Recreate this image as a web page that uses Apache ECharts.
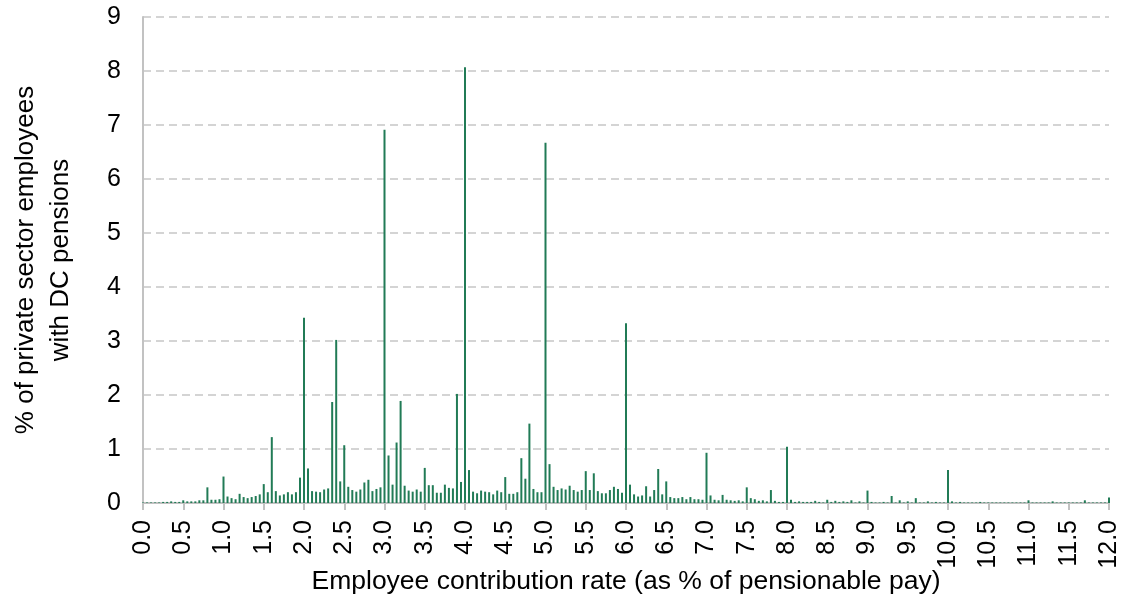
<!DOCTYPE html>
<html>
<head>
<meta charset="utf-8">
<script src="https://cdn.jsdelivr.net/npm/echarts@6/dist/echarts.min.js"></script>
<style>
	html, body { margin: 0; padding: 0; background: #fff; }
	#chart { width: 1126px; height: 602px; }
</style>
</head>
<body>
<div id="chart"></div>
<script>
// contribution rates run 0.00 .. 12.00 in steps of 0.05
var rateStep = 0.05;

// % of private sector employees with DC pensions, one value per rate step
var shares = [
	0.01, 0.01, 0.01, 0.01, 0.01, 0.02, 0.02, 0.03, 0.02, 0.02,   // 0.0 - 0.45
	0.05, 0.03, 0.03, 0.03, 0.05, 0.05, 0.29, 0.06, 0.06, 0.07,   // 0.5 - 0.95
	0.49, 0.12, 0.09, 0.07, 0.17, 0.11, 0.09, 0.11, 0.13, 0.16,   // 1.0
	0.35, 0.20, 1.22, 0.22, 0.14, 0.16, 0.20, 0.16, 0.20, 0.47,   // 1.5
	3.43, 0.64, 0.22, 0.21, 0.20, 0.25, 0.27, 1.87, 3.02, 0.40,   // 2.0
	1.07, 0.30, 0.24, 0.21, 0.25, 0.38, 0.43, 0.22, 0.26, 0.29,   // 2.5
	6.91, 0.88, 0.34, 1.12, 1.89, 0.32, 0.23, 0.21, 0.25, 0.21,   // 3.0
	0.65, 0.33, 0.33, 0.19, 0.19, 0.34, 0.28, 0.27, 2.02, 0.39,   // 3.5
	8.07, 0.61, 0.21, 0.18, 0.23, 0.21, 0.20, 0.16, 0.23, 0.20,   // 4.0
	0.48, 0.17, 0.17, 0.20, 0.83, 0.45, 1.47, 0.26, 0.20, 0.20,   // 4.5
	6.67, 0.72, 0.30, 0.24, 0.27, 0.25, 0.32, 0.24, 0.21, 0.24,   // 5.0
	0.59, 0.24, 0.55, 0.22, 0.18, 0.18, 0.24, 0.30, 0.26, 0.19,   // 5.5
	3.33, 0.34, 0.16, 0.12, 0.14, 0.31, 0.12, 0.24, 0.63, 0.16,   // 6.0
	0.40, 0.11, 0.09, 0.09, 0.11, 0.07, 0.11, 0.07, 0.07, 0.06,   // 6.5
	0.93, 0.14, 0.06, 0.05, 0.15, 0.06, 0.05, 0.04, 0.05, 0.03,   // 7.0
	0.29, 0.09, 0.07, 0.04, 0.05, 0.03, 0.24, 0.04, 0.02, 0.02,   // 7.5
	1.04, 0.06, 0.02, 0.03, 0.02, 0.02, 0.02, 0.04, 0.02, 0.01,   // 8.0
	0.06, 0.02, 0.04, 0.02, 0.03, 0.02, 0.05, 0.01, 0.03, 0.01,   // 8.5
	0.23, 0.02, 0.01, 0.01, 0.02, 0.01, 0.13, 0.01, 0.05, 0.01,   // 9.0
	0.03, 0.01, 0.09, 0.01, 0.01, 0.03, 0.01, 0.02, 0.01, 0.01,   // 9.5
	0.61, 0.03, 0.01, 0.02, 0.01, 0.01, 0.01, 0.01, 0.02, 0.01,   // 10.0
	0.01, 0.01, 0.01, 0.01, 0.01, 0.01, 0.01, 0.01, 0.01, 0.01,   // 10.5
	0.05, 0.01, 0.01, 0.01, 0.01, 0.01, 0.03, 0.01, 0.01, 0.01,   // 11.0
	0.01, 0.01, 0.01, 0.01, 0.05, 0.01, 0.01, 0.01, 0.01, 0.01,   // 11.5
	0.10                                                          // 12.0
];

var rates = shares.map(function(v, i) {
	return +(i * rateStep).toFixed(2);
});

var xTitle = 'Employee contribution rate (as % of pensionable pay)';
var yTitle = '% of private sector employees\nwith DC pensions';

var chart = echarts.init(document.getElementById('chart'), null, {renderer: 'canvas'});

var textFont = 'Liberation Sans, Arial, sans-serif';

var option = {
	backgroundColor: '#ffffff',
	animation: false,
	grid: {
		left: 143,
		right: 17,
		top: 17,
		bottom: 99,
		containLabel: false,
		outerBoundsMode: 'none'
	},
	xAxis: {
		type: 'value',
		min: 0,
		max: 12,
		interval: 0.5,
		name: xTitle,
		nameLocation: 'middle',
		nameGap: 65,
		nameMoveOverlap: false,
		nameTextStyle: {
			color: '#000',
			fontSize: 26.5,
			fontFamily: textFont
		},
		axisLine: {
			show: true,
			lineStyle: { color: '#c2c2c2', width: 2 }
		},
		axisTick: {
			show: true,
			length: 7,
			lineStyle: { color: '#c2c2c2', width: 2 }
		},
		axisLabel: {
			rotate: 90,
			margin: 17,
			color: '#000',
			fontSize: 25,
			fontFamily: textFont,
			showMinLabel: true,
			showMaxLabel: true,
			formatter: function(v) {
				return v.toFixed(1);
			}
		},
		splitLine: { show: false }
	},
	yAxis: {
		type: 'value',
		min: 0,
		max: 9,
		interval: 1,
		name: yTitle,
		nameLocation: 'middle',
		nameRotate: 90,
		nameGap: 65,
		nameMoveOverlap: false,
		nameTextStyle: {
			color: '#000',
			fontSize: 26,
			lineHeight: 35,
			fontFamily: textFont
		},
		axisLine: {
			show: true,
			lineStyle: { color: '#c2c2c2', width: 2 }
		},
		axisTick: { show: false },
		axisLabel: {
			margin: 22,
			color: '#000',
			fontSize: 25,
			fontFamily: textFont
		},
		splitLine: {
			show: true,
			lineStyle: {
				color: '#c6c6c6',
				width: 1.5,
				type: [8, 5]
			}
		}
	},
	series: [{
		type: 'bar',
		barWidth: 2,
		itemStyle: {
			color: '#217b56'
		},
		data: rates.map(function(r, i) {
			return [r, shares[i]];
		})
	}]
};

chart.setOption(option);
window.addEventListener('resize', function() {
	chart.resize();
});
</script>
</body>
</html>
